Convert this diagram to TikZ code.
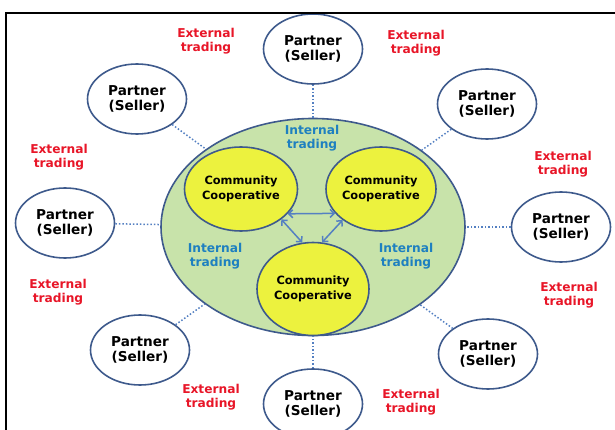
\documentclass[tikz,border=0pt]{standalone}
\usepackage{fontspec}
\setmainfont{DejaVu Sans}
\usepackage{tikz}
\usetikzlibrary{shapes.geometric}
\usetikzlibrary{arrows.meta}
\pgfdeclarelayer{nodelayer}
\pgfdeclarelayer{edgelayer}
\pgfsetlayers{nodelayer,edgelayer,main}
\definecolor{rimblue}{RGB}{62,90,140}
\definecolor{marketgreen}{RGB}{200,227,170}
\definecolor{coopyellow}{RGB}{236,242,62}
\definecolor{tradeblue}{RGB}{30,128,192}
\definecolor{tradered}{RGB}{232,22,40}
\definecolor{linkblue}{RGB}{84,128,194}
\tikzset{
    market/.style = {ellipse, draw=rimblue, fill=marketgreen, line width=1.6pt, inner sep=0pt},
    coop/.style = {ellipse, draw=rimblue, fill=coopyellow, line width=1.6pt, inner sep=0pt,
        align=center, font=\bfseries\fontsize{11.4}{14.5}\selectfont},
    partner/.style = {ellipse, draw=rimblue, fill=white, line width=1.6pt, inner sep=0pt,
        minimum width=99pt, minimum height=70pt,
        align=center, font=\bfseries\fontsize{13.6}{15.5}\selectfont},
    intlabel/.style = {text=tradeblue, align=center, font=\bfseries\fontsize{12.2}{13.4}\selectfont},
    extlabel/.style = {text=tradered, align=center, font=\bfseries\fontsize{12.2}{13.4}\selectfont},
    link/.style = {draw=linkblue, line width=1.5pt, dotted},
    flow/.style = {draw=linkblue, line width=1.5pt, {Straight Barb[length=4pt,width=8pt]}-{Straight Barb[length=4pt,width=8pt]}}
}

\begin{document}
\begin{tikzpicture}[x=1pt, y=-1pt]
  \useasboundingbox (0,0) rectangle (615,430);
  \clip (0,0) rectangle (615,430);
  \draw [line width=1.3pt] (6,432) -- (6,13) -- (617,13);
  \begin{pgfonlayer}{nodelayer}
    \node [style=market, minimum width=304pt, minimum height=217pt] (0) at (313, 227) {};
    \node [style=coop, minimum width=113pt, minimum height=84pt] (1) at (241, 189) {Community\\Cooperative};
    \node [style=coop, minimum width=110pt, minimum height=84pt] (2) at (381, 189) {Community\\Cooperative};
    \node [style=coop, minimum width=112pt, minimum height=93pt] (3) at (313, 289) {Community\\Cooperative};
    \node [style=partner] (4) at (313, 49) {Partner\\(Seller)};
    \node [style=partner] (5) at (137, 99) {Partner\\(Seller)};
    \node [style=partner] (6) at (487, 104) {Partner\\(Seller)};
    \node [style=partner] (7) at (65, 223) {Partner\\(Seller)};
    \node [style=partner] (8) at (561, 227) {Partner\\(Seller)};
    \node [style=partner] (9) at (140, 350) {Partner\\(Seller)};
    \node [style=partner] (10) at (488, 354) {Partner\\(Seller)};
    \node [style=partner] (11) at (313, 404) {Partner\\(Seller)};
    \node [style=intlabel] (12) at (312, 138) {Internal\\trading};
    \node [style=intlabel] (13) at (215, 256) {Internal\\trading};
    \node [style=intlabel] (14) at (406, 256) {Internal\\trading};
    \node [style=extlabel] (15) at (206, 41) {External\\trading};
    \node [style=extlabel] (16) at (416, 43) {External\\trading};
    \node [style=extlabel] (17) at (59, 157) {External\\trading};
    \node [style=extlabel] (18) at (563, 164) {External\\trading};
    \node [style=extlabel] (19) at (58, 292) {External\\trading};
    \node [style=extlabel] (20) at (569, 295) {External\\trading};
    \node [style=extlabel] (21) at (211, 397) {External\\trading};
    \node [style=extlabel] (22) at (411, 402) {External\\trading};
  \end{pgfonlayer}
  \begin{pgfonlayer}{edgelayer}
    \draw [style=flow] (1.-28) to (2.208);
    \draw [style=flow] (1.-37) to (3.103);
    \draw [style=flow] (2.219) to (3.79);
    \foreach \p in {4,...,11}
      \draw [style=link] (\p) to (0);
  \end{pgfonlayer}
\end{tikzpicture}
\end{document}
